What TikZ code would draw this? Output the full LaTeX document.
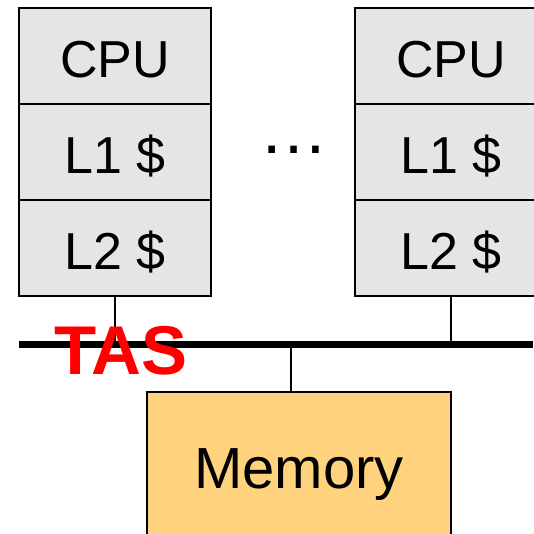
\documentclass[tikz,border=0pt]{standalone}
\usepackage{fontspec}
\setmainfont{Liberation Sans}
\begin{document}
\begin{tikzpicture}[x=1pt,y=-1pt,
  cell/.style={draw=black, line width=1.6pt, fill=cellgray, minimum width=192pt, minimum height=96pt, inner sep=0pt, outer sep=0pt, text height=43pt, text depth=0pt, font=\fontsize{52}{60}\selectfont},
  mem/.style={draw=black, line width=1.6pt, fill=memorange, minimum width=304pt, minimum height=150pt, inner sep=0pt, outer sep=0pt, text height=42pt, text depth=0pt, font=\fontsize{58}{66}\selectfont},
  wire/.style={draw=black, line width=1.5pt},
  bus/.style={draw=black, line width=7pt}]
\definecolor{cellgray}{HTML}{E5E5E5}
\definecolor{memorange}{HTML}{FFD37D}
\definecolor{tasred}{HTML}{FF0000}
\useasboundingbox (0,0) rectangle (533,534);
% left stack
\node[cell] (cpua) at (115,56) {CPU};
\node[cell] (l1a) at (115,152) {L1 \$};
\node[cell] (l2a) at (115,248) {L2 \$};
% right stack
\node[cell] (cpub) at (451,56) {CPU};
\node[cell] (l1b) at (451,152) {L1 \$};
\node[cell] (l2b) at (451,248) {L2 \$};
% dots
\node[font=\fontsize{69}{76}\selectfont, anchor=base, inner sep=0pt] (dots) at (293.5,154) {…};
% bus
\coordinate (busL) at (19,344);
\coordinate (busR) at (533,344);
\draw[bus] (busL) -- (busR);
% memory
\node[mem] (memory) at (299,467) {Memory};
\coordinate (memtap) at ([xshift=-8pt]memory.north);
% connectors
\draw[wire] (l2a.south) -- (l2a.south |- busL);
\draw[wire] (l2b.south) -- (l2b.south |- busL);
\draw[wire] (memtap) -- (memtap |- busL);
% TAS label
\node[font=\fontsize{69}{76}\selectfont\bfseries, text=tasred, anchor=base west, inner sep=0pt] (tas) at (54,374) {TAS};
\end{tikzpicture}
\end{document}
